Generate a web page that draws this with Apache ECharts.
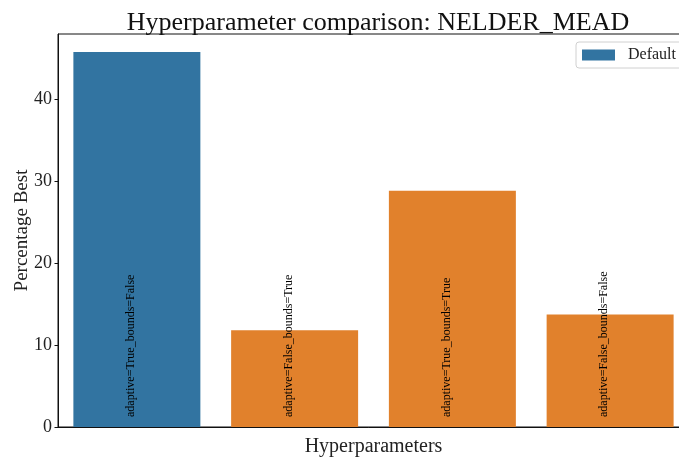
<!DOCTYPE html>
<html>
<head>
<meta charset="utf-8">
<script src="https://cdn.jsdelivr.net/npm/echarts@6/dist/echarts.min.js"></script>
<style>
  html, body { margin: 0; padding: 0; background: #fff; }
  #main { width: 679px; height: 457px; }
</style>
</head>
<body>
<div id="main"></div>
<script>
// data
var categories = ['adaptive=True_bounds=False', 'adaptive=False_bounds=True', 'adaptive=True_bounds=True', 'adaptive=False_bounds=False'];
var values = [45.7, 11.8, 28.8, 13.7];
var isDefault = [true, false, false, false];
var yTicks = [0, 10, 20, 30, 40];

var BLUE = '#3274a1';
var ORANGE = '#e1812c';
var FONT = '"Liberation Serif", "DejaVu Serif", serif';

var chart = echarts.init(document.getElementById('main'));

chart.setOption({
  animation: false,
  textStyle: { fontFamily: FONT },
  title: {
    text: 'Hyperparameter comparison: NELDER_MEAD',
    left: 373,
    textAlign: 'center',
    top: 5,
    textStyle: { fontFamily: FONT, fontSize: 26, fontWeight: 'normal', color: '#111' }
  },
  legend: {
    data: ['Default'],
    icon: 'rect',
    left: 576,
    top: 42,
    padding: [5, 12, 5, 6],
    itemWidth: 33,
    itemHeight: 11,
    backgroundColor: '#fff',
    borderColor: '#d0d0d0',
    borderWidth: 1,
    borderRadius: 3,
    textStyle: { fontFamily: FONT, fontSize: 16, color: '#222', padding: [0, 0, 0, 8] }
  },
  grid: {
    left: 58,
    top: 34,
    width: 631,
    height: 393,
    show: true,
    borderColor: '#111',
    borderWidth: 1,
    containLabel: false,
    outerBoundsMode: 'none'
  },
  xAxis: {
    type: 'category',
    data: categories,
    name: 'Hyperparameters',
    nameLocation: 'middle',
    nameGap: 10,
    nameMoveOverlap: false,
    nameTextStyle: { fontFamily: FONT, fontSize: 20, color: '#222', verticalAlign: 'top' },
    axisLine: { lineStyle: { color: '#111', width: 1 } },
    axisTick: { alignWithLabel: true, length: 3.5, lineStyle: { color: '#111' } },
    axisLabel: { show: false },
    splitLine: { show: false }
  },
  yAxis: {
    type: 'value',
    min: 0,
    max: 47.9,
    interval: 10,
    name: 'Percentage Best',
    nameLocation: 'middle',
    nameGap: 26,
    nameMoveOverlap: false,
    nameTextStyle: { fontFamily: FONT, fontSize: 19, color: '#222' },
    axisLine: { show: true, lineStyle: { color: '#111', width: 1 } },
    axisTick: { show: true, length: 3.5, lineStyle: { color: '#111' } },
    axisLabel: {
      margin: 6,
      fontFamily: FONT,
      fontSize: 18,
      color: '#222',
      showMaxLabel: false,
      formatter: function (v) { return yTicks.indexOf(v) >= 0 ? String(v) : ''; }
    },
    splitLine: { show: false }
  },
  series: [{
    name: 'Default',
    type: 'bar',
    barWidth: '80.5%',
    itemStyle: { color: BLUE },
    data: values.map(function (v, i) {
      return { value: v, itemStyle: { color: isDefault[i] ? BLUE : ORANGE } };
    }),
    label: {
      show: true,
      position: 'insideBottom',
      distance: 10,
      rotate: 90,
      offset: [0, -6],
      align: 'left',
      verticalAlign: 'middle',
      fontFamily: FONT,
      fontSize: 12,
      color: '#000',
      formatter: function (p) { return categories[p.dataIndex]; }
    }
  }]
});
</script>
</body>
</html>
